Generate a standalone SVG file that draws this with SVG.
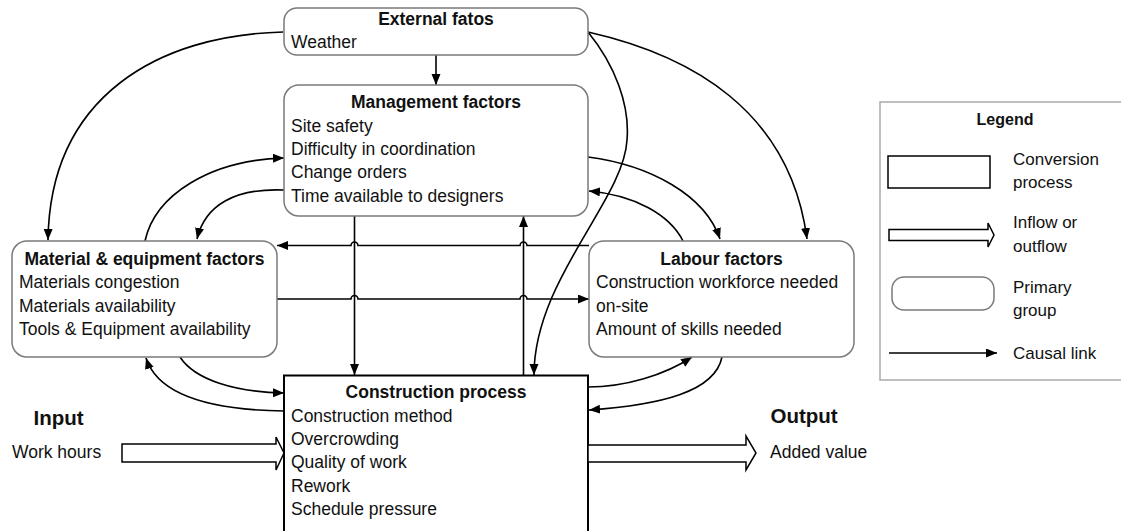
<svg xmlns="http://www.w3.org/2000/svg" width="1121" height="531" viewBox="0 0 1121 531">
<defs>
<marker id="ah" markerUnits="userSpaceOnUse" markerWidth="12" markerHeight="10" refX="11" refY="4.5" orient="auto">
<path d="M0,0 L11,4.5 L0,9 z" fill="#000"/>
</marker>
<style>
.t{font-family:"Liberation Sans",Arial,sans-serif;font-size:17.5px;fill:#111}
.b{font-weight:bold}
.c{text-anchor:middle}
.grp{fill:#fff;stroke:#7a7a7a;stroke-width:1.5}
.proc{fill:#fff;stroke:#000;stroke-width:2}
.lk{fill:none;stroke:#000;stroke-width:1.6;marker-end:url(#ah)}
.flow{fill:#fff;stroke:#000;stroke-width:1.5;stroke-linejoin:miter}
.big{font-size:20.5px}
.lg{font-size:17px}
</style>
</defs>
<rect width="1121" height="531" fill="#fff"/>

<g id="connectors">
<path class="lk" d="M436 55 L436 85"/>
<path class="lk" d="M283 32 C160 35, 50 95, 48 240"/>
<path class="lk" d="M588 32 C690 55, 790 110, 807 239"/>
<path class="lk" d="M588 32 C615 65, 630 105, 627 140 C624 200, 534 280, 534 375"/>
<path class="lk" d="M354.5 216 L354.5 375"/>
<path class="lk" d="M523.5 375 L523.5 216"/>
<path class="lk" d="M589 245.5 H527 A3.5 3.5 0 0 0 520 245.5 H358 A3.5 3.5 0 0 0 351 245.5 H277"/>
<path class="lk" d="M277 299 H351 A3.5 3.5 0 0 1 358 299 H520 A3.5 3.5 0 0 1 527 299 H589"/>
<path class="lk" d="M145 241 C155 195, 210 160, 284 158"/>
<path class="lk" d="M284 190 C235 188, 205 205, 197 239"/>
<path class="lk" d="M588 157 C650 165, 705 195, 720 239"/>
<path class="lk" d="M683 241 C670 215, 635 195, 589 191"/>
<path class="lk" d="M180 357 C195 380, 235 392, 284 393"/>
<path class="lk" d="M284 411 C210 410, 158 395, 146 358"/>
<path class="lk" d="M588 387 C625 387, 665 375, 692 357"/>
<path class="lk" d="M722 357 C715 392, 660 405, 589 410"/>
</g>

<g id="external">
<rect class="grp" x="284" y="8" width="304" height="47" rx="13"/>
<text class="t b c" x="436" y="25">External fatos</text>
<text class="t" x="291" y="48">Weather</text>
</g>

<g id="management">
<rect class="grp" x="284" y="85" width="304" height="131" rx="15"/>
<text class="t b c" x="436" y="108">Management factors</text>
<text class="t" x="291" y="132">Site safety</text>
<text class="t" x="291" y="155">Difficulty in coordination</text>
<text class="t" x="291" y="178">Change orders</text>
<text class="t" x="291" y="202">Time available to designers</text>
</g>

<g id="material">
<rect class="grp" x="12" y="241" width="265" height="116" rx="15"/>
<text class="t b c" x="144.5" y="265">Material &amp; equipment factors</text>
<text class="t" x="19" y="288">Materials congestion</text>
<text class="t" x="19" y="312">Materials availability</text>
<text class="t" x="19" y="335">Tools &amp; Equipment availability</text>
</g>

<g id="labour">
<rect class="grp" x="589" y="241" width="265" height="116" rx="15"/>
<text class="t b c" x="721.5" y="265">Labour factors</text>
<text class="t" x="596" y="288">Construction workforce needed</text>
<text class="t" x="596" y="312">on-site</text>
<text class="t" x="596" y="335">Amount of skills needed</text>
</g>

<g id="construction">
<rect class="proc" x="284" y="375.5" width="304" height="200"/>
<text class="t b c" x="436" y="398">Construction process</text>
<text class="t" x="291" y="422">Construction method</text>
<text class="t" x="291" y="445">Overcrowding</text>
<text class="t" x="291" y="468">Quality of work</text>
<text class="t" x="291" y="492">Rework</text>
<text class="t" x="291" y="515">Schedule pressure</text>
</g>

<g id="input">
<text class="t b big" x="33.5" y="425">Input</text>
<text class="t" x="12" y="458">Work hours</text>
<polygon class="flow" points="122,444 276,444 276,437 284,453 276,470 276,462 122,462"/>
</g>

<g id="output">
<polygon class="flow" points="588,445 746,445 746,436 756,453 746,470 746,462 588,462"/>
<text class="t b big" x="770.5" y="423">Output</text>
<text class="t" x="770" y="458">Added value</text>
</g>

<g id="legend">
<rect x="880" y="102" width="250" height="278" fill="#fff" stroke="#aaa" stroke-width="1.5"/>
<text class="t b c" x="1005" y="125" style="font-size:16px">Legend</text>
<rect x="888" y="156" width="102" height="32" fill="#fff" stroke="#000" stroke-width="1.5"/>
<text class="t lg" x="1013" y="165">Conversion</text>
<text class="t lg" x="1013" y="188">process</text>
<polygon class="flow" points="889,229.5 988,229.5 988,223 994,235 988,247 988,240.5 889,240.5"/>
<text class="t lg" x="1013" y="228">Inflow or</text>
<text class="t lg" x="1013" y="252">outflow</text>
<rect class="grp" x="892" y="277" width="102" height="33" rx="12"/>
<text class="t lg" x="1013" y="293">Primary</text>
<text class="t lg" x="1013" y="316">group</text>
<path class="lk" d="M889 353 L997 353"/>
<text class="t lg" x="1013" y="359">Causal link</text>
</g>
</svg>
